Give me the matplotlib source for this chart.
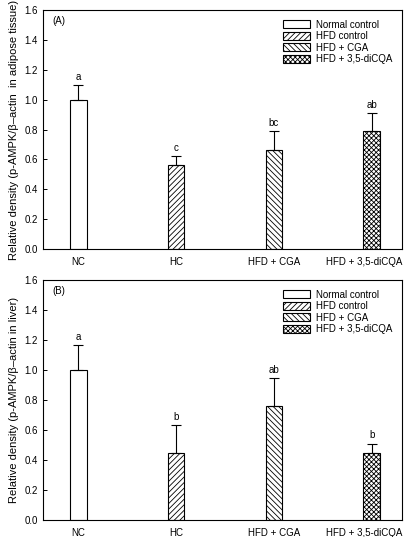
import matplotlib
matplotlib.use("Agg")
import matplotlib.pyplot as plt
import numpy as np

plt.rcParams['font.family'] = ['Liberation Sans', 'DejaVu Sans']
plt.rcParams['hatch.linewidth'] = 0.6

categories = ["NC", "HC", "HFD + CGA", "HFD + 3,5-diCQA"]
legend_labels = ["Normal control", "HFD control", "HFD + CGA", "HFD + 3,5-diCQA"]

vals_a = [1.00, 0.56, 0.665, 0.79]
err_a = [0.10, 0.06, 0.125, 0.12]
sig_a = ["a", "c", "bc", "ab"]

vals_b = [1.00, 0.445, 0.76, 0.445]
err_b = [0.17, 0.19, 0.185, 0.065]
sig_b = ["a", "b", "ab", "b"]

hatches = ["", "//////", "\\\\\\\\\\\\", "xxxxxxx"]
yticks = [0.0, 0.2, 0.4, 0.6, 0.8, 1.0, 1.2, 1.4, 1.6]

fig = plt.figure(figsize=(4.08, 5.37), dpi=100)
W, H = 408, 537
axA = fig.add_axes([43 / W, 1 - 249 / H, (402 - 43) / W, (249 - 10) / H])
axB = fig.add_axes([43 / W, 1 - 520 / H, (402 - 43) / W, (520 - 280) / H])

def draw(ax, vals, errs, sigs, label, ylabel):
    x = np.arange(len(categories))
    for i in range(len(categories)):
        ax.bar(x[i], vals[i], width=0.17, color="white", edgecolor="black",
               linewidth=0.8, hatch=hatches[i], label=legend_labels[i], zorder=2)
    ax.errorbar(x, vals, yerr=[np.zeros(len(vals)), errs], fmt="none", ecolor="black",
                elinewidth=0.8, capsize=3.5, capthick=0.8, zorder=3)
    for i in range(len(vals)):
        ax.text(x[i], vals[i] + errs[i] + 0.02, sigs[i], ha="center", va="bottom", fontsize=7)
    ax.set_xlim(-0.36, 3.31)
    ax.set_ylim(0, 1.6)
    ax.set_yticks(yticks)
    ax.set_yticklabels([f"{t:.1f}" for t in yticks], fontsize=7)
    # label positions (last label nudged left so it fits within the figure, as in the reference)
    label_pos = x + np.array([0, 0, 0, -0.08])
    ax.set_xticks(label_pos)
    ax.set_xticklabels(categories, fontsize=7)
    ax.tick_params(axis="y", direction="in", length=3, width=0.7)
    ax.tick_params(axis="x", length=0, pad=6)
    for s in ax.spines.values():
        s.set_linewidth(0.8)
    ax.set_ylabel(ylabel, fontsize=8)
    ax.text(0.025, 0.975, label, transform=ax.transAxes, ha="left", va="top", fontsize=7)
    ax.legend(loc="upper right", frameon=False, fontsize=7, handlelength=2.8,
              handleheight=0.9, labelspacing=0.15, borderaxespad=0.6, handletextpad=0.6)

draw(axA, vals_a, err_a, sig_a, "(A)", "Relative density (p-AMPK/\u03b2\u2013actin  in adipose tissue)")
draw(axB, vals_b, err_b, sig_b, "(B)", "Relative density (p-AMPK/\u03b2\u2013actin in liver)")

fig.savefig("out.png", dpi=100)
